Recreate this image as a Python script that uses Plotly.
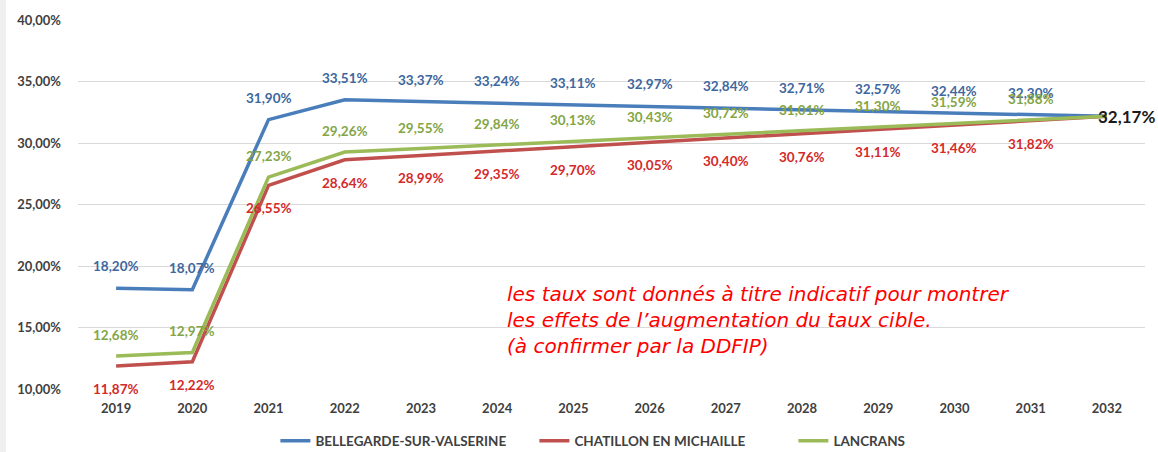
import plotly.graph_objects as go

years = ["2019", "2020", "2021", "2022", "2023", "2024", "2025", "2026",
         "2027", "2028", "2029", "2030", "2031", "2032"]
bellegarde = [18.20, 18.07, 31.90, 33.51, 33.37, 33.24, 33.11, 32.97,
              32.84, 32.71, 32.57, 32.44, 32.30, 32.17]
chatillon = [11.87, 12.22, 26.55, 28.64, 28.99, 29.35, 29.70, 30.05,
             30.40, 30.76, 31.11, 31.46, 31.82, 32.17]
lancrans = [12.68, 12.97, 27.23, 29.26, 29.55, 29.84, 30.13, 30.43,
            30.72, 31.01, 31.30, 31.59, 31.88, 32.17]
y_ticks = [10, 15, 20, 25, 30, 35, 40]
y_tick_labels = ["10,00%", "15,00%", "20,00%", "25,00%", "30,00%", "35,00%", "40,00%"]
target_label = "32,17%"
note_text = ("les taux sont donnés à titre indicatif pour montrer<br>"
             "les effets de l’augmentation du taux cible.<br>"
             "(à confirmer par la DDFIP)")

series = [
    ("BELLEGARDE-SUR-VALSERINE", bellegarde, "#4A7EBB", "#3E679E", 22),
    ("CHATILLON EN MICHAILLE", chatillon, "#C0504D", "#D42A2A", -23),
    ("LANCRANS", lancrans, "#9BBB59", "#84A545", 21),
]

fig = go.Figure()
annotations = []
lab_font = "Lato"
for name, vals, col, lcol, shift in series:
    fig.add_trace(go.Scatter(
        x=years, y=vals, mode="lines", name=name,
        line=dict(color=col, width=3.5),
        hoverinfo="skip",
    ))
    for i, v in enumerate(vals):
        if i == len(years) - 1:
            continue
        annotations.append(dict(
            x=i, y=v, xref="x", yref="y", showarrow=False,
            text="<b>" + f"{v:.2f}".replace(".", ",") + "%</b>", yshift=shift,
            font=dict(family=lab_font, size=13.5, color=lcol),
        ))

annotations.append(dict(
    x=len(years) - 1, y=bellegarde[-1], xref="x", yref="y", showarrow=False,
    text="<b>" + target_label + "</b>", xanchor="left", xshift=-11,
    font=dict(family=lab_font, size=17, color="#1a1a1a"),
))
annotations.append(dict(
    x=0.4, y=0.187, xref="paper", yref="paper", showarrow=False,
    text="<i>" + note_text.replace("<br>", "</i><br><i>") + "</i>",
    xanchor="left", yanchor="middle", align="left",
    font=dict(family="DejaVu Sans", size=20, color="#FF0000"),
))

fig.update_layout(
    width=1158, height=452,
    margin=dict(l=78, r=13, t=20, b=63, autoexpand=False),
    paper_bgcolor="white", plot_bgcolor="white",
    showlegend=True,
    legend=dict(
        orientation="h", x=0.185, xanchor="left",
        yref="container", y=(452 - 441) / 452, yanchor="middle",
        font=dict(family=lab_font, size=13.5, color="#404040", weight="bold"),
        entrywidth=214, entrywidthmode="pixels",
        traceorder="normal",
    ),
    annotations=annotations,
    shapes=[dict(type="rect", xref="paper", yref="paper",
                 x0=-78 / 1067, x1=-72 / 1067, y0=-63 / 369, y1=1 + 20 / 369,
                 fillcolor="#F0F0F0", line=dict(width=0), layer="below")],
)
fig.update_xaxes(
    type="category", range=[-0.5, 13.5], showgrid=False, zeroline=False,
    showline=False, ticks="", automargin=False, ticklabelstandoff=10,
    tickfont=dict(family=lab_font, size=13, color="#404040", weight="bold"),
)
fig.update_yaxes(
    range=[10, 40], tickvals=y_ticks, ticktext=y_tick_labels,
    showgrid=True, gridcolor="#D9D9D9", gridwidth=1, zeroline=False,
    showline=False, ticks="", ticklabelstandoff=16, automargin=False,
    tickfont=dict(family=lab_font, size=13, color="#404040", weight="bold"),
)

fig.write_html(
    "out.html",
    config={"displayModeBar": False},
    post_script="document.body.style.margin='0';document.body.style.overflow='hidden';",
)
